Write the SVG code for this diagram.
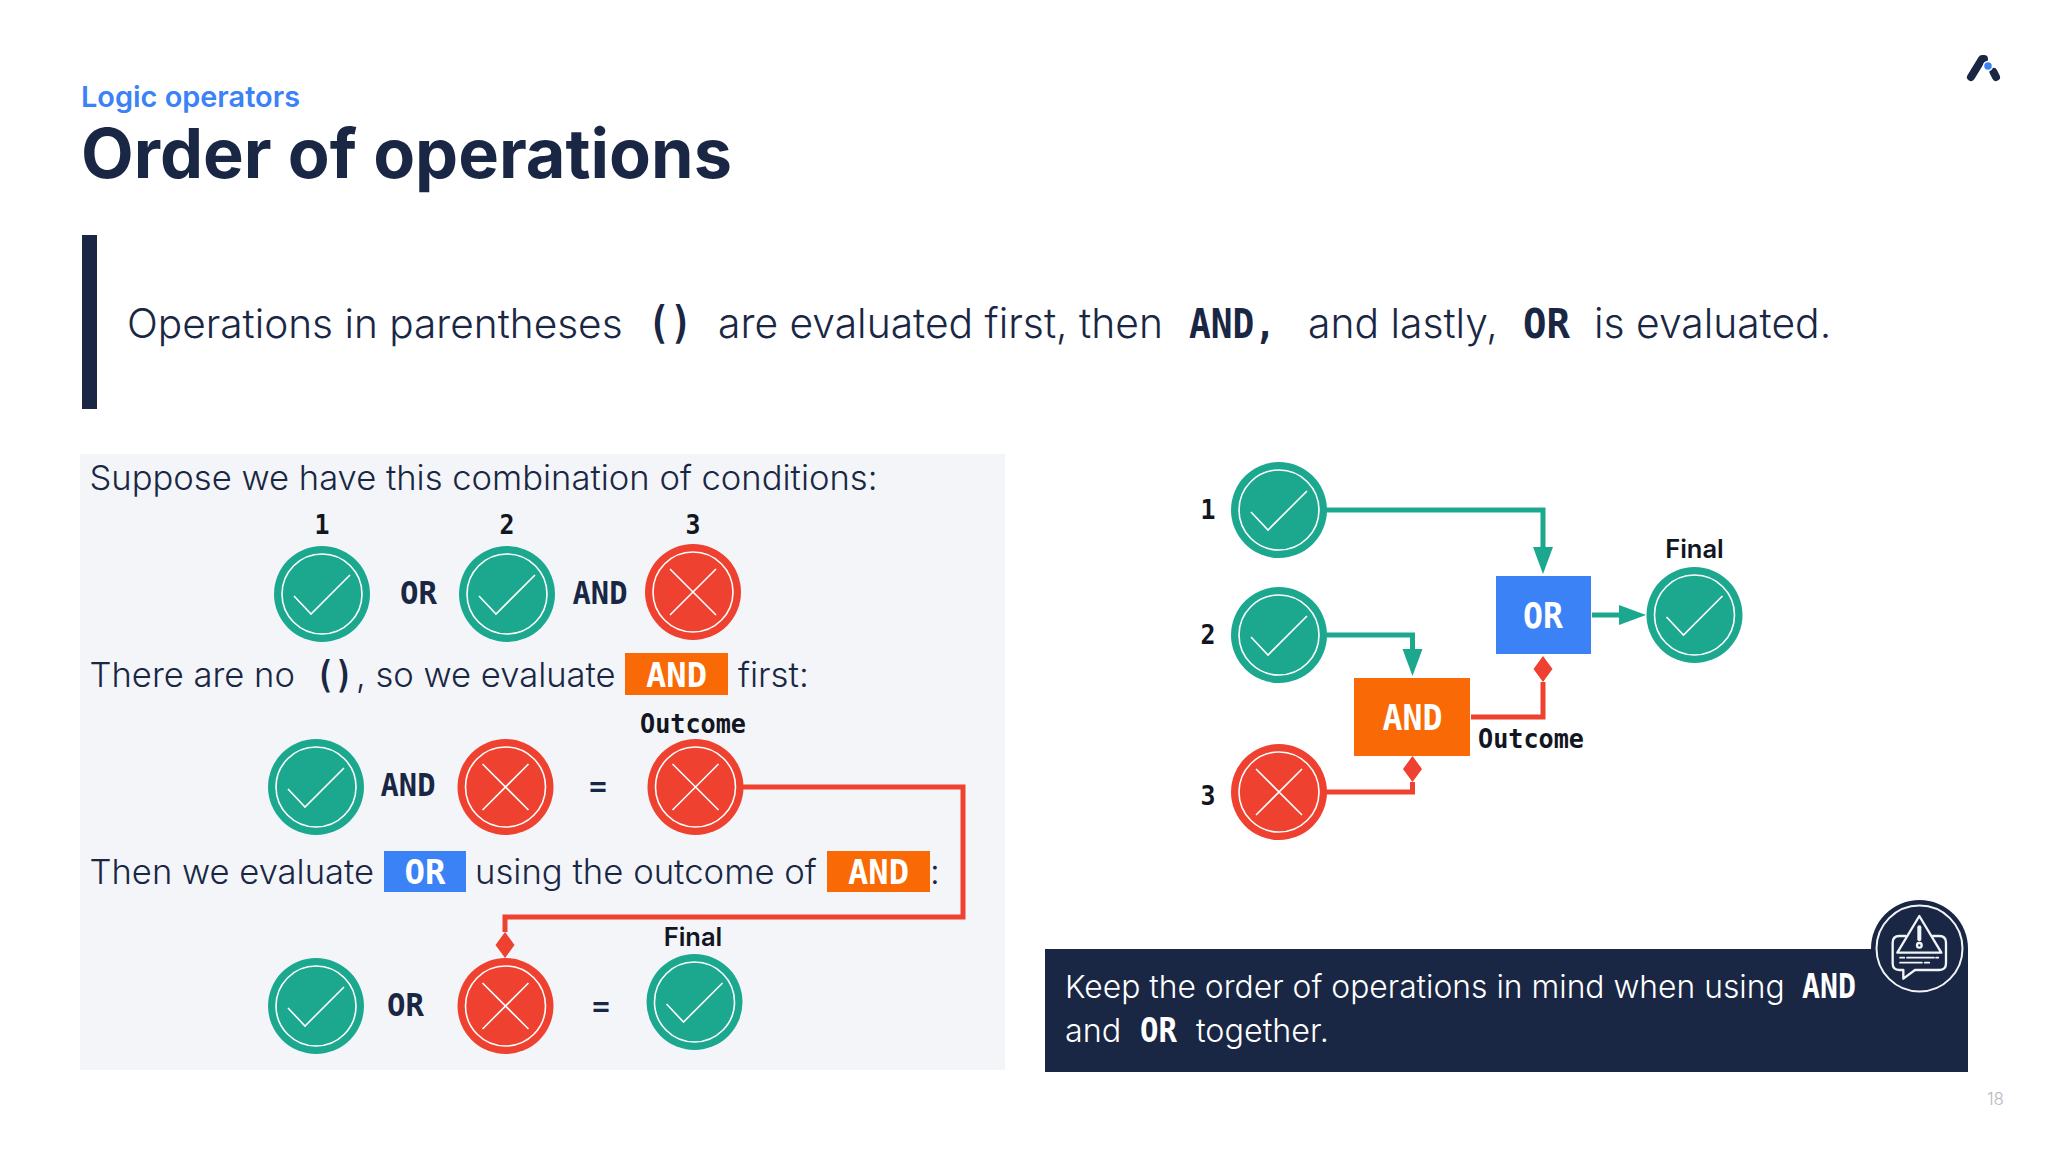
<svg xmlns="http://www.w3.org/2000/svg" xmlns:xlink="http://www.w3.org/1999/xlink" width="2048" height="1152" viewBox="0 0 2048 1152">
<style>
text{font-family:"Inter","Liberation Sans",sans-serif;fill:#1a2744}
.body{font-weight:300}
.mono{font-family:"DejaVu Sans Mono","Liberation Mono",monospace;font-weight:700}
.lab{fill:#111622;font-size:27px}
.sans{font-family:"Inter","Liberation Sans",sans-serif;font-weight:600;font-size:25.500px}
.w{fill:#fff}
.mid{text-anchor:middle}
.t{fill:#1ca88f}.r{fill:#ee4130}
.ring{fill:none;stroke:#fff;stroke-width:1.6}
.gl{fill:none;stroke:#f2f5f8;stroke-linejoin:round;stroke-linecap:round}
.ct{fill:none;stroke:#1ca88f;stroke-width:5}
.cr{fill:none;stroke:#ee4130;stroke-width:5}
.lg{fill:none;stroke:#1a2744;stroke-width:8;stroke-linecap:round;stroke-linejoin:round}
</style>
<defs>
<marker id="at" markerUnits="userSpaceOnUse" markerWidth="30" markerHeight="24" refX="0" refY="12" orient="auto"><path d="M0,2 L27,12 L0,22 Z" fill="#1ca88f"/></marker>
<marker id="dr" markerUnits="userSpaceOnUse" markerWidth="30" markerHeight="24" refX="0" refY="12" orient="auto"><path d="M0,12 L13,2.500 L26,12 L13,21.500 Z" fill="#ee4130"/></marker>
<g id="ok"><circle r="48" class="t"/><circle r="40" class="ring"/><path d="M-28,2 L-11,20 L28,-19" class="ring"/></g>
<g id="no"><circle r="48" class="r"/><circle r="40" class="ring"/><path d="M-23,-23 L23,23 M23,-23 L-23,23" class="ring"/></g>
</defs>
<rect width="2048" height="1152" fill="#fff"/>

<g id="header">
<text x="81" y="107" font-size="28.900" font-weight="600" style="fill:#3b82f6">Logic operators</text>
<text x="81" y="177.500" font-size="68.400" font-weight="700">Order of operations</text>
<text x="2004" y="1105" font-size="17" text-anchor="end" style="fill:#b4b9c1" font-weight="300">18</text>
</g>
<g id="logo">
<path class="lg" d="M1971,77 L1982,59 H1984"/>
<path class="lg" d="M1993.500,72 L1996,77"/>
<circle cx="1988" cy="66" r="4.500" fill="#3b82f6" stroke="#fff" stroke-width="1.500"/>
</g>

<g id="statement">
<rect x="82" y="235" width="15" height="174" fill="#1a2744"/>
<text class="body" x="127" y="338" font-size="40.600">Operations in parentheses</text>
<text class="mono" x="648" y="338" font-size="44" textLength="44" lengthAdjust="spacingAndGlyphs">()</text>
<text class="body" x="718" y="338" font-size="40.800">are evaluated first, then</text>
<text class="mono" x="1189" y="338" font-size="40" textLength="87" lengthAdjust="spacingAndGlyphs">AND,</text>
<text class="body" x="1308" y="338" font-size="40.800">and lastly,</text>
<text class="mono" x="1523" y="338" font-size="40" textLength="47" lengthAdjust="spacingAndGlyphs">OR</text>
<text class="body" x="1594" y="338" font-size="40.800">is evaluated.</text>
</g>

<g id="panel">
<rect x="80" y="454" width="925" height="616" fill="#f3f5f8"/>
<text class="body" x="89.500" y="490" font-size="34.600">Suppose we have this combination of conditions:</text>
<text class="body" x="89.500" y="687" font-size="34.600">There are no</text>
<text class="mono" x="316" y="687" font-size="38" textLength="37" lengthAdjust="spacingAndGlyphs">()</text>
<text class="body" x="356" y="687" font-size="34.600">, so we evaluate</text>
<text class="body" x="738" y="687" font-size="34.800">first:</text>
<text class="body" x="89.500" y="884" font-size="34.600">Then we evaluate</text>
<text class="body" x="475" y="884" font-size="34.700">using the outcome of</text>
<text class="body" x="930" y="884" font-size="34.600">:</text>
<g id="tag-and-1"><rect x="625" y="653" width="103" height="42" fill="#f96a06"/><text class="mono w mid" x="676.500" y="687" font-size="33" textLength="61" lengthAdjust="spacingAndGlyphs">AND</text></g>
<g id="tag-or"><rect x="384" y="851" width="82" height="41" fill="#3b82f6"/><text class="mono w mid" x="425" y="884" font-size="33" textLength="41" lengthAdjust="spacingAndGlyphs">OR</text></g>
<g id="tag-and-2"><rect x="827" y="851" width="103" height="41" fill="#f96a06"/><text class="mono w mid" x="878.500" y="884" font-size="33" textLength="61" lengthAdjust="spacingAndGlyphs">AND</text></g>
</g>

<g id="connectors">
<path class="cr" d="M742,787 H963 V917 H505 V932" marker-end="url(#dr)"/>
<path class="ct" d="M1326,510 H1543 V547" marker-end="url(#at)"/>
<path class="ct" d="M1326,635 H1412.500 V649" marker-end="url(#at)"/>
<path class="ct" d="M1592,615 H1619" marker-end="url(#at)"/>
<path class="cr" d="M1471,717 H1543 V682" marker-end="url(#dr)"/>
<path class="cr" d="M1326,792 H1412.500 V782" marker-end="url(#dr)"/>
</g>

<g id="row1">
<g id="c1"><use xlink:href="#ok" href="#ok" x="322" y="594"/><text class="mono lab mid" x="322" y="534" textLength="15" lengthAdjust="spacingAndGlyphs">1</text></g>
<text class="mono mid" x="418.500" y="604" font-size="32" textLength="37" lengthAdjust="spacingAndGlyphs">OR</text>
<g id="c2"><use xlink:href="#ok" href="#ok" x="507" y="594"/><text class="mono lab mid" x="507" y="534" textLength="15" lengthAdjust="spacingAndGlyphs">2</text></g>
<text class="mono mid" x="600" y="604" font-size="32" textLength="55" lengthAdjust="spacingAndGlyphs">AND</text>
<g id="c3"><use xlink:href="#no" href="#no" x="693" y="592"/><text class="mono lab mid" x="693" y="534" textLength="15" lengthAdjust="spacingAndGlyphs">3</text></g>
</g>
<g id="row2">
<g id="c4"><use href="#ok" x="316" y="787"/></g>
<text class="mono mid" x="408" y="796" font-size="32" textLength="55" lengthAdjust="spacingAndGlyphs">AND</text>
<g id="c5"><use href="#no" x="505.500" y="787"/></g>
<text class="mono mid" x="598" y="796" font-size="29">=</text>
<g id="c6"><use href="#no" x="695.500" y="787"/><text class="mono lab mid" x="693" y="733" textLength="106" lengthAdjust="spacingAndGlyphs">Outcome</text></g>
</g>
<g id="row3">
<g id="c7"><use href="#ok" x="316" y="1006"/></g>
<text class="mono mid" x="405.500" y="1016" font-size="32" textLength="37" lengthAdjust="spacingAndGlyphs">OR</text>
<g id="c8"><use href="#no" x="505.500" y="1006"/></g>
<text class="mono mid" x="601" y="1016" font-size="29">=</text>
<g id="c9"><use href="#ok" x="694.500" y="1002"/><text class="sans lab mid" x="693" y="946">Final</text></g>
</g>

<g id="flow">
<g id="n1"><use href="#ok" x="1279" y="510"/><text class="mono lab mid" x="1208" y="519" textLength="15" lengthAdjust="spacingAndGlyphs">1</text></g>
<g id="n2"><use href="#ok" x="1279" y="635"/><text class="mono lab mid" x="1208" y="644" textLength="15" lengthAdjust="spacingAndGlyphs">2</text></g>
<g id="n3"><use href="#no" x="1279" y="792"/><text class="mono lab mid" x="1208" y="805" textLength="15" lengthAdjust="spacingAndGlyphs">3</text></g>
<g id="n-or"><rect x="1496" y="576" width="95" height="78" fill="#3b82f6"/><text class="mono w mid" x="1543" y="628" font-size="35" textLength="40" lengthAdjust="spacingAndGlyphs">OR</text></g>
<g id="n-and"><rect x="1354" y="678" width="116" height="78" fill="#f96a06"/><text class="mono w mid" x="1412.500" y="730" font-size="35" textLength="60" lengthAdjust="spacingAndGlyphs">AND</text></g>
<g id="n-final"><use href="#ok" x="1694.500" y="615"/><text class="sans lab mid" x="1694.500" y="558">Final</text></g>
<text id="l-outcome" class="mono lab" x="1478" y="748" textLength="106" lengthAdjust="spacingAndGlyphs">Outcome</text>
</g>

<g id="note">
<rect x="1045" y="949" width="923" height="123" fill="#1a2744"/>
<circle cx="1919.500" cy="948.500" r="48.500" fill="#1a2744"/>
<circle cx="1919.500" cy="948.500" r="43" fill="none" stroke="#f2f5f8" stroke-width="2"/>
<g transform="translate(1860 890) scale(.3333)" class="gl" style="stroke-width:7">
<path d="M178,78 L244,188 L112,188 Z"/>
<path d="M137,138 H118 Q98,138 98,158 V220 Q98,240 118,240 H130 V266 L165,240 H238 Q258,240 258,220 V158 Q258,138 238,138 H219"/>
<path d="M178,112 V148" style="stroke-width:12"/>
<circle cx="178" cy="166" r="7"/>
<path d="M120,203 H133 M141,203 H222 M228,203 H235 M120,218 H186 M194,218 H208" style="stroke-width:5"/>
</g>
<text class="body w" x="1065" y="998" font-size="31.800">Keep the order of operations in mind when using</text>
<text class="mono w" x="1802" y="998" font-size="33" textLength="54" lengthAdjust="spacingAndGlyphs">AND</text>
<text class="body w" x="1065" y="1042" font-size="32.300">and</text>
<text class="mono w" x="1140" y="1042" font-size="33" textLength="37" lengthAdjust="spacingAndGlyphs">OR</text>
<text class="body w" x="1196" y="1042" font-size="32.300">together.</text>
</g>
</svg>
